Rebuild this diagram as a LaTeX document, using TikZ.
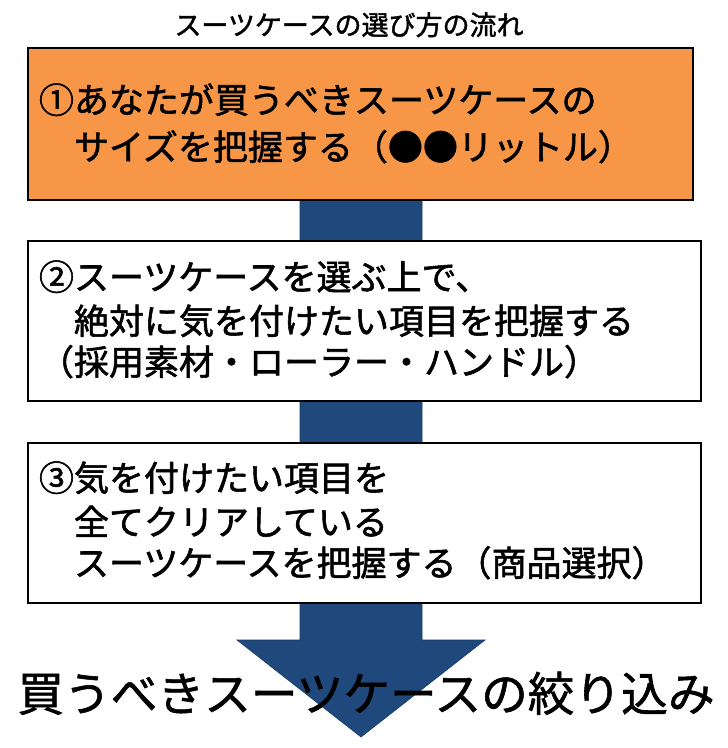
\documentclass[tikz,border=0pt]{standalone}
\usepackage{fontspec}
\newfontfamily\jp[FakeBold=1.6]{Noto Sans CJK JP}
\newfontfamily\jpt[FakeBold=1.2]{Noto Sans CJK JP}
\definecolor{boxorange}{HTML}{F79646}
\definecolor{arrowblue}{HTML}{1F497D}
\tikzset{
  boxshape/.style={draw=black, line width=2.5pt, anchor=north west, inner sep=0pt, outer sep=0pt},
  txt/.style={inner sep=0pt, outer sep=0pt, anchor=base west, font=\jp\fontsize{35}{40}\selectfont},
  titletxt/.style={inner sep=0pt, anchor=base, font=\jp\fontsize{27}{30}\selectfont},
  bigtxt/.style={inner sep=0pt, anchor=base, font=\jpt\fontsize{46.7}{50}\selectfont},
}
\begin{document}
\begin{tikzpicture}[x=1pt,y=-1pt]
\useasboundingbox (0,0) rectangle (728,748);
\fill[white] (0,0) rectangle (728,748);
% arrow
\coordinate (s1) at (300,150);
\coordinate (s2) at (422,150);
\coordinate (s3) at (422,640);
\coordinate (h1) at (485,640);
\coordinate (tip) at (361,737);
\coordinate (h2) at (237,640);
\coordinate (s4) at (300,640);
\filldraw[fill=arrowblue, draw=arrowblue!80!black, line width=0.6pt] (s1) -- (s2) -- (s3) -- (h1) -- (tip) -- (h2) -- (s4) -- cycle;
% boxes
\node[boxshape, fill=boxorange, minimum width=665pt, minimum height=152pt] (b1) at (28,48) {};
\node[boxshape, fill=white, minimum width=673pt, minimum height=160pt] (b2) at (28,241) {};
\node[boxshape, fill=white, minimum width=673pt, minimum height=160pt] (b3) at (28,443) {};
% title
\node[titletxt] (title) at (349,35) {スーツケースの選び方の流れ};
% box 1
\node[txt] (t1a) at (39,113) {①あなたが買うべきスーツケースの};
\node[txt] (t1b) at (39,160) {　サイズを把握する（●●リットル）};
% box 2
\node[txt] (t2a) at (39,290) {②スーツケースを選ぶ上で、};
\node[txt] (t2b) at (39,334) {　絶対に気を付けたい項目を把握する};
\node[txt] (t2c) at (39,375) {（採用素材・ローラー・ハンドル）};
% box 3
\node[txt] (t3a) at (39,491) {③気を付けたい項目を};
\node[txt] (t3b) at (39,535) {　全てクリアしている};
\node[txt] (t3c) at (39,576) {　スーツケースを把握する（商品選択）};
% final
\node[bigtxt] (final) at (366,711) {買うべきスーツケースの絞り込み};
\end{tikzpicture}
\end{document}
